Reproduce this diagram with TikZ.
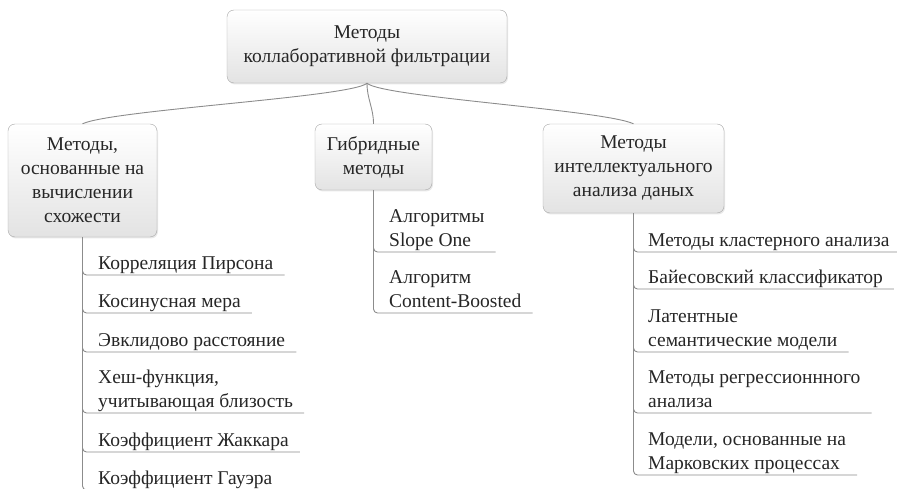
\documentclass[tikz,border=0pt]{standalone}
\usepackage{fontspec}
\setmainfont{Liberation Serif}
\usetikzlibrary{shadows}

\definecolor{linegray}{HTML}{8C8C8C}
\definecolor{boxgray}{HTML}{A6A6A6}
\definecolor{textgray}{HTML}{262626}

\begin{document}
\begin{tikzpicture}[x=1pt,y=-1pt]

		\tikzstyle{every node}=[text=textgray,font=\fontsize{19.5}{24}\selectfont]
		\tikzstyle{box}=[draw=boxgray,rounded corners=7pt,align=center,
			top color=white,bottom color=gray!22,
			drop shadow={opacity=0.18,shadow xshift=1pt,shadow yshift=-1.5pt}]
		\tikzstyle{leaf}=[anchor=south west,align=left,inner xsep=11pt,inner ysep=5.5pt,text depth=0pt]
		\tikzstyle{link}=[draw=linegray,line width=0.9pt]
		\tikzstyle{branch}=[draw=linegray,line width=0.9pt,rounded corners=4pt]

		\useasboundingbox (0,0) rectangle (897,489);

		% top and the three groups
		\node[box,minimum width=280pt,minimum height=73pt] (cf) at (367,46.5) {Методы\\коллаборативной фильтрации};
		\node[box,minimum width=149pt,minimum height=113pt] (sim) at (82.5,180.5) {Методы,\\основанные на\\вычислении\\схожести};
		\node[box,minimum width=117pt,minimum height=66pt] (hyb) at (373.5,157) {Гибридные\\методы};
		\node[box,minimum width=181pt,minimum height=89pt] (dm) at (633.5,168.5) {Методы\\интеллектуального\\анализа даных};

		\path[link] (cf.south) .. controls +(-15,14) and +(30,-14) .. (sim.north)
					(cf.south) .. controls +(0,16) and +(0,-16) .. (hyb.north)
					(cf.south) .. controls +(15,14) and +(-30,-14) .. (dm.north);

		% similarity based
		\node[leaf] (s_1) at (87,275) {Корреляция Пирсона};
		\node[leaf] (s_2) at (87,313) {Косинусная мера};
		\node[leaf] (s_3) at (87,352) {Эвклидово расстояние};
		\node[leaf] (s_4) at (87,413) {Хеш-функция,\\учитывающая близость};
		\node[leaf] (s_5) at (87,452) {Коэффициент Жаккара};
		\node[leaf] (s_6) at (87,490) {Коэффициент Гауэра};

		% hybrid
		\node[leaf] (h_1) at (378,252) {Алгоритмы\\Slope One};
		\node[leaf] (h_2) at (378,313) {Алгоритм\\Content-Boosted};

		% data mining
		\node[leaf] (d_1) at (637,252) {Методы кластерного анализа};
		\node[leaf] (d_2) at (637,289) {Байесовский классификатор};
		\node[leaf] (d_3) at (637,352) {Латентные\\семантические модели};
		\node[leaf] (d_4) at (637,413) {Методы регрессионнного\\анализа};
		\node[leaf] (d_5) at (637,475) {Модели, основанные на\\Марковских процессах};

		\foreach \i in {1,...,6}
			\path[branch] (sim.south) |- (s_\i.south east);
		\foreach \i in {1,2}
			\path[branch] (hyb.south) |- (h_\i.south east);
		\foreach \i in {1,...,5}
			\path[branch] (dm.south) |- (d_\i.south east);
		\end{tikzpicture}
\end{document}
